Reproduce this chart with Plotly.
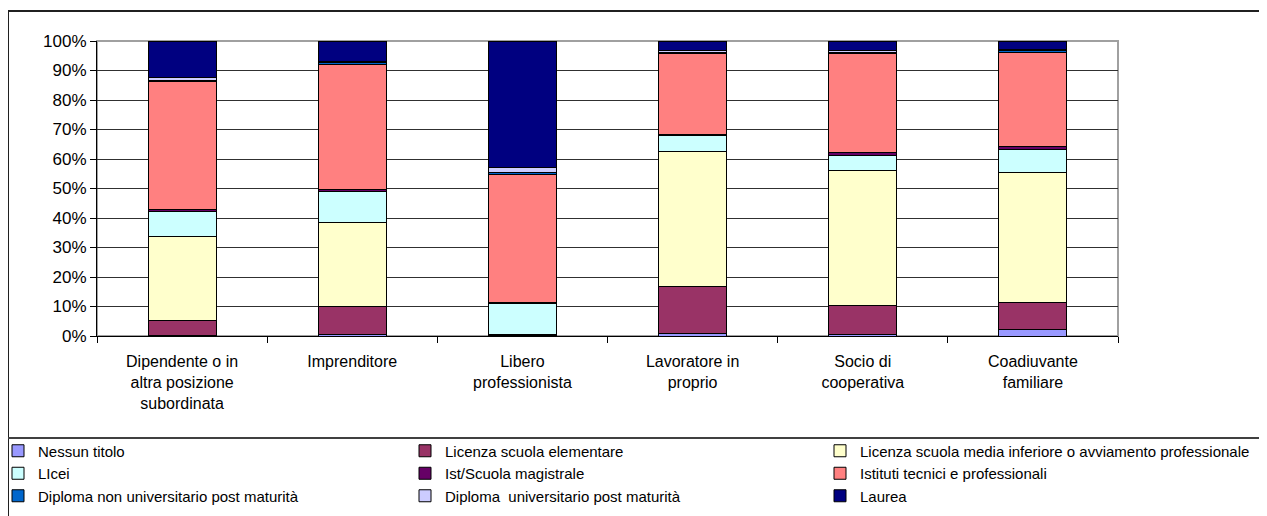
import plotly.graph_objects as go

categories = [
    "Dipendente o in<br>altra posizione<br>subordinata",
    "Imprenditore",
    "Libero<br>professionista",
    "Lavoratore in<br>proprio",
    "Socio di<br>cooperativa",
    "Coadiuvante<br>familiare",
]

series_names = [
    "Nessun titolo",
    "Licenza scuola elementare",
    "Licenza scuola media inferiore o avviamento professionale",
    "LIcei",
    "Ist/Scuola magistrale",
    "Istituti tecnici e professionali",
    "Diploma non universitario post maturità",
    "Diploma  universitario post maturità",
    "Laurea",
]

nessun_titolo = [0.3, 0.6, 0.0, 0.9, 0.6, 2.3]
licenza_elementare = [4.9, 9.3, 0.2, 16.0, 9.8, 9.0]
licenza_media = [28.5, 28.6, 0.3, 45.6, 45.6, 44.2]
licei = [8.4, 10.4, 10.6, 5.3, 5.1, 7.8]
magistrale = [0.9, 0.6, 0.3, 0.6, 1.2, 1.1]
istituti_tecnici = [43.4, 42.7, 43.2, 27.4, 33.5, 31.8]
diploma_non_univ = [0.3, 0.4, 0.9, 0.4, 0.4, 0.6]
diploma_univ = [1.0, 0.4, 1.6, 0.5, 0.5, 0.3]
laurea = [12.3, 7.0, 42.9, 3.3, 3.3, 2.9]

series_values = [
    nessun_titolo, licenza_elementare, licenza_media, licei, magistrale,
    istituti_tecnici, diploma_non_univ, diploma_univ, laurea,
]
series_colors = [
    "#9999FF", "#993366", "#FFFFCC", "#CCFFFF", "#660066",
    "#FF8080", "#0066CC", "#CCCCFF", "#000080",
]
legend_ids = ["legend", "legend2", "legend3"] * 3

y_ticks = list(range(0, 101, 10))

# the page adds an 8px body margin, so figure coordinates are page - 8
W, H = 1267, 516
L, R, T, B = 89, 1110, 33, 328
FONT = "Liberation Sans, Arial, sans-serif"

fig = go.Figure()
for name, vals, col, lg in zip(series_names, series_values, series_colors, legend_ids):
    fig.add_trace(go.Bar(
        x=categories, y=vals, name=name,
        marker=dict(color=col, line=dict(color="#000000", width=1)),
        legend=lg,
    ))


def px(x):
    return (x - L) / (R - L)


def py(y):
    return (B - y) / (B - T)


shapes = [
    dict(type="rect", xref="paper", yref="paper", x0=0, x1=1, y0=0, y1=1,
         line=dict(color="#A0A0A0", width=2), layer="below"),
    dict(type="line", xref="paper", yref="paper", x0=px(0), x1=px(0), y0=py(3), y1=py(530),
         line=dict(color="#202020", width=2)),
    dict(type="line", xref="paper", yref="paper", x0=px(0), x1=px(1290), y0=py(3), y1=py(3),
         line=dict(color="#202020", width=2)),
    dict(type="line", xref="paper", yref="paper", x0=px(0), x1=px(1290), y0=py(430), y1=py(430),
         line=dict(color="#404040", width=2)),
]

leg_common = dict(
    orientation="v", yref="container", yanchor="top", xanchor="left",
    traceorder="normal", bgcolor="rgba(0,0,0,0)", borderwidth=0,
    font=dict(family=FONT, size=15, color="#000000"), itemclick=False,
)
leg_top = 1 - 426.5 / H

fig.update_layout(
    width=W, height=H,
    margin=dict(l=L, r=W - R, t=T, b=H - B, pad=0, autoexpand=False),
    paper_bgcolor="#FFFFFF", plot_bgcolor="#FFFFFF",
    barmode="stack", bargap=0.6,
    font=dict(family=FONT, size=16, color="#000000"),
    shapes=shapes,
    legend=dict(xref="paper", x=px(-10), y=leg_top, **leg_common),
    legend2=dict(xref="container", x=397 / W, y=leg_top, **leg_common),
    legend3=dict(xref="container", x=812 / W, y=leg_top, **leg_common),
    xaxis=dict(
        type="category", showgrid=False, showline=True, linecolor="#000000", linewidth=1,
        ticks="outside", tickson="boundaries", ticklen=6, tickcolor="#000000",
        tickfont=dict(family=FONT, size=16), ticklabelstandoff=11, tickangle=0,
    ),
    yaxis=dict(
        range=[0, 100], tickvals=y_ticks, ticktext=[f"{v}%" for v in y_ticks],
        showgrid=True, gridcolor="#303030", gridwidth=1,
        showline=True, linecolor="#000000", linewidth=1,
        ticks="outside", ticklen=6, tickcolor="#000000",
        tickfont=dict(family=FONT, size=17), zeroline=False,
    ),
)

fig.write_html("out.html")
